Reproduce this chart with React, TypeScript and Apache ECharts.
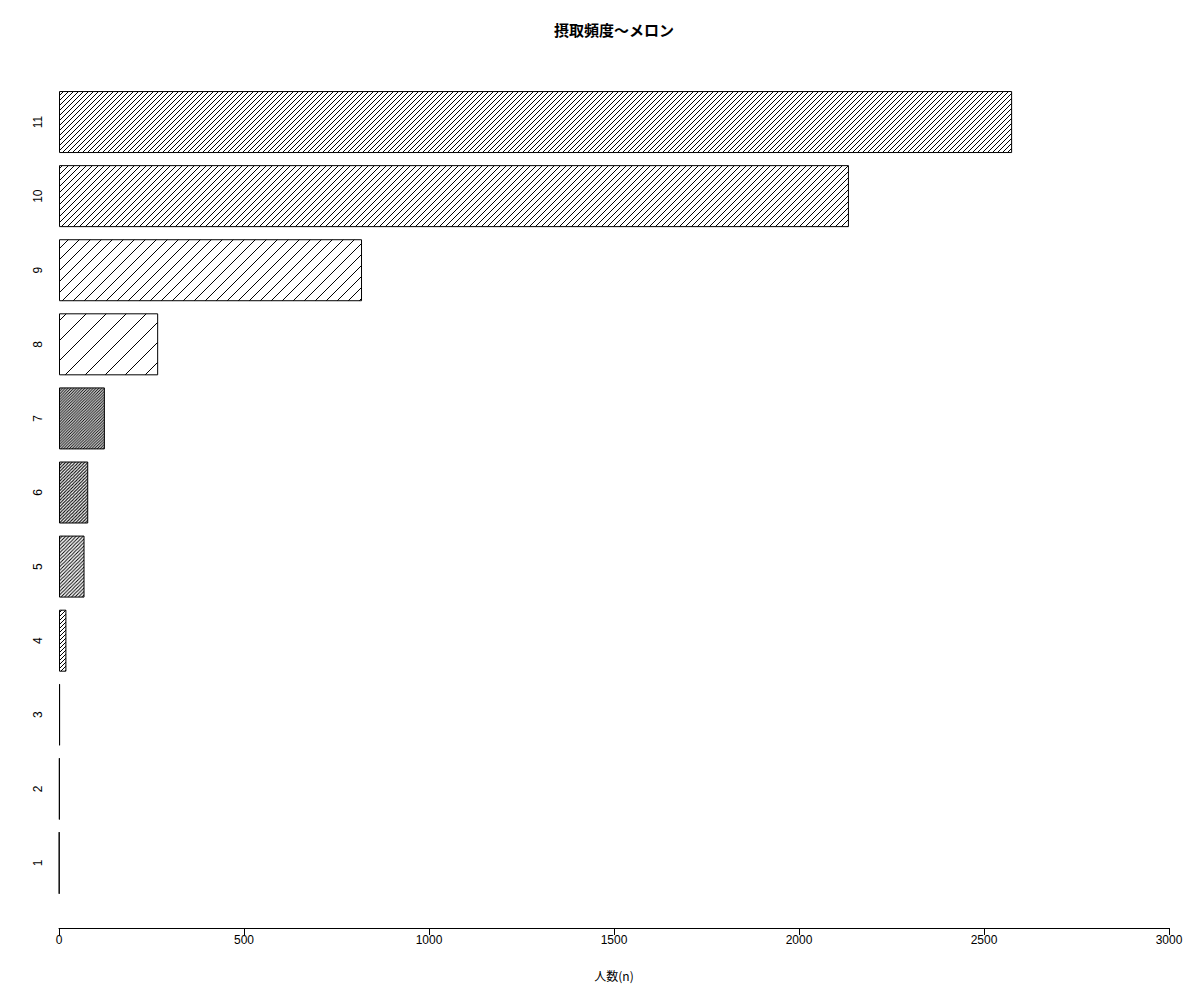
import React, { useEffect, useRef } from "react";
import * as echarts from "echarts";

const categories = ["1", "2", "3", "4", "5", "6", "7", "8", "9", "10", "11"];
const values = [1, 2, 3, 20, 69, 79, 124, 268, 819, 2135, 2576];
// hatch spacing (px, horizontal) per bar
const hatchSpacing = [4, 4, 4, 4, 3.5, 3.2, 2.8, 20, 11, 6, 5];
const xTicks = { min: 0, max: 3000, interval: 500 };
const titleText = "摂取頻度〜メロン";
const xAxisName = "人数(n)";

function hatchPattern(s: number) {
  const svg =
    `<svg xmlns="http://www.w3.org/2000/svg" width="${s}" height="${s}" viewBox="0 0 ${s} ${s}">` +
    `<path d="M0,${s} L${s},0 M-1,1 L1,-1 M${s - 1},${s + 1} L${s + 1},${s - 1}" stroke="#000" stroke-width="1" fill="none"/>` +
    `</svg>`;
  return {
    image: "data:image/svg+xml;charset=utf-8," + encodeURIComponent(svg),
    repeat: "repeat",
    imageWidth: s,
    imageHeight: s,
  } as any;
}

export default function App() {
  const ref = useRef<HTMLDivElement>(null);
  useEffect(() => {
    if (!ref.current) return;
    const chart = echarts.init(ref.current, null, { renderer: "svg" });
    const font = "'Liberation Sans', Arial, 'Noto Sans CJK JP', sans-serif";
    chart.setOption({
      animation: false,
      backgroundColor: "#fff",
      textStyle: { fontFamily: font },
      graphic: [
        {
          type: "text",
          x: 614,
          y: 29,
          style: {
            text: titleText,
            textAlign: "center",
            textVerticalAlign: "middle",
            font: "bold 15px 'Noto Sans CJK JP', sans-serif",
            fill: "#000",
          },
        },
      ],
      grid: { left: 59, right: 31, top: 85, bottom: 100, containLabel: false },
      xAxis: {
        type: "value",
        min: xTicks.min,
        max: xTicks.max,
        interval: xTicks.interval,
        offset: 28,
        name: xAxisName,
        nameLocation: "middle",
        nameGap: 41,
        nameTextStyle: { fontFamily: "'Noto Sans CJK JP', sans-serif", fontSize: 12, color: "#000" },
        axisLine: { show: true, lineStyle: { color: "#000", width: 1 } },
        axisTick: { show: true, length: 7, lineStyle: { color: "#000" } },
        axisLabel: {
          fontSize: 12,
          color: "#000",
          margin: 6,
          fontFamily: font,
          formatter: (v: number) => String(v),
        },
        splitLine: { show: false },
      },
      yAxis: {
        type: "category",
        data: categories,
        axisLine: { show: false },
        axisTick: { show: false },
        axisLabel: { rotate: 90, fontSize: 12, color: "#000", margin: 15, fontFamily: font },
        splitLine: { show: false },
      },
      series: [
        {
          type: "bar",
          barWidth: 62,
          data: values.map((v, i) => ({
            value: v,
            itemStyle: {
              color: hatchPattern(hatchSpacing[i]),
              borderColor: "#000",
              borderWidth: 1,
            },
          })),
        },
      ],
    });
    return () => chart.dispose();
  }, []);
  return (
    <div
      ref={ref}
      style={{ position: "fixed", left: 0, top: 0, width: 1200, height: 1000, background: "#fff" }}
    />
  );
}
